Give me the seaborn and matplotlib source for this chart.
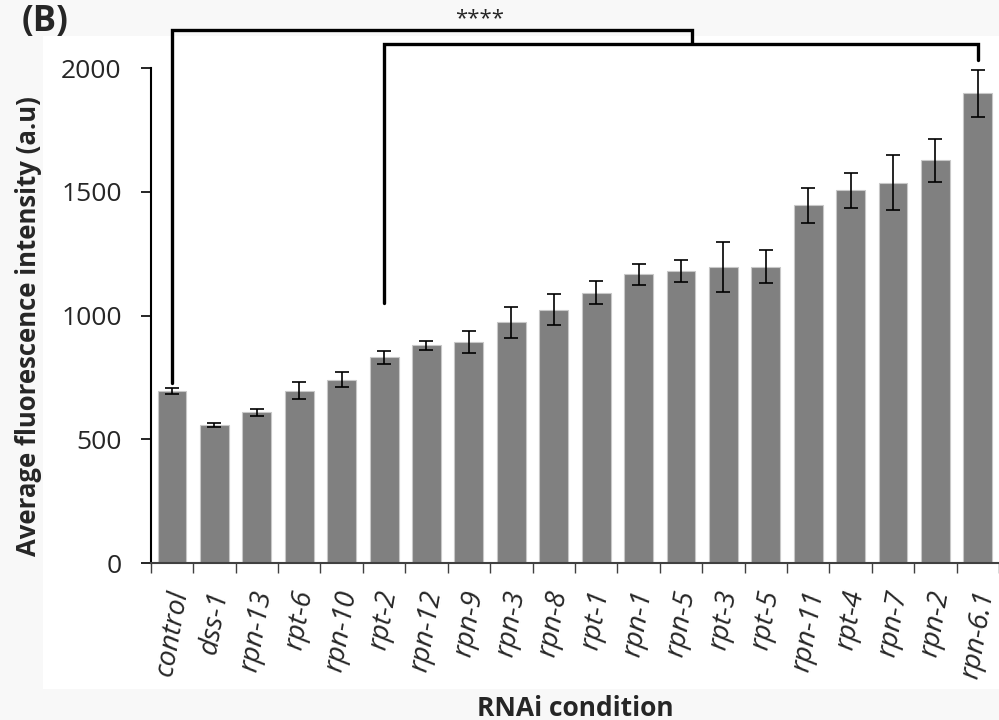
import matplotlib
matplotlib.use("Agg")
from matplotlib import pyplot as plt
from matplotlib.patches import Rectangle
import numpy as np
import pandas as pd
import seaborn as sns

conditions = ['control', 'dss-1', 'rpn-13', 'rpt-6', 'rpn-10', 'rpt-2', 'rpn-12',
              'rpn-9', 'rpn-3', 'rpn-8', 'rpt-1', 'rpn-1', 'rpn-5', 'rpt-3', 'rpt-5',
              'rpn-11', 'rpt-4', 'rpn-7', 'rpn-2', 'rpn-6.1']
mean_fluo = [696, 558, 609, 696, 741, 831, 879, 893, 972, 1024,
             1092, 1166, 1180, 1197, 1197, 1445, 1506, 1537, 1628, 1898]
sem_fluo = [12, 7, 13, 35, 30, 25, 18, 43, 61, 64,
            47, 44, 46, 100, 67, 72, 71, 112, 87, 94]

df = pd.DataFrame({'condition': conditions, 'fluo': mean_fluo, 'sem': sem_fluo})

sns.set_style('white')
plt.rcParams['font.family'] = ['Open Sans', 'DejaVu Sans']

fig = plt.figure(figsize=(9.99, 7.2), dpi=100, facecolor='#f8f8f8')
fig.patches.append(Rectangle((43/999, 1 - 689/720), 1 - 43/999, (689 - 36)/720,
                             transform=fig.transFigure, facecolor='white',
                             edgecolor='none', zorder=-10))
ax = fig.add_axes([0.151, 0.218, 0.849, 0.6875])
ax.set_facecolor('none')

sns.barplot(data=df, x='condition', y='fluo', color='#808080', saturation=1,
            width=0.68, edgecolor='#c8c8c8', linewidth=0.8, errorbar=None, ax=ax)
ax.errorbar(np.arange(len(conditions)), df['fluo'], yerr=df['sem'], fmt='none',
            ecolor='black', elinewidth=1.2, capsize=5, capthick=1.2)

ax.set_ylim(0, 2000)
ax.set_xlim(-0.5, len(conditions) - 0.5)
ax.set_yticks([0, 500, 1000, 1500, 2000])
ax.tick_params(axis='y', labelsize=19, length=7, width=1.2, direction='out',
               left=True, pad=14, color='black')
ax.set_xticks(np.arange(len(conditions)))
ax.set_xticklabels(conditions, rotation=80, fontsize=20, style='italic',
                   ha='center', va='top')
ax.tick_params(axis='x', length=0, pad=18)
ax.set_xticks(np.arange(-0.5, len(conditions), 1), minor=True)
ax.tick_params(axis='x', which='minor', length=7, width=1, color='#404040',
               direction='out', bottom=True)

sns.despine(ax=ax)
ax.spines['left'].set_color('black')
ax.spines['left'].set_linewidth(1.5)
ax.spines['bottom'].set_color('#404040')
ax.spines['bottom'].set_linewidth(1.5)

ax.set_ylabel('Average fluorescence intensity (a.u)', fontsize=18.5,
              fontweight='bold')
ax.yaxis.set_label_coords(-0.128, 0.479)
ax.set_xlabel('RNAi condition', fontsize=19, fontweight='bold', labelpad=10)

# significance brackets
kw = dict(color='black', lw=2.4, clip_on=False, solid_joinstyle='miter')
ax.plot([0, 0, 12.26, 12.26], [727, 2154, 2154, 2101], **kw)
ax.plot([5, 5, 19, 19], [1050, 2097, 2097, 2032], **kw)
ax.text(7.24, 2200, '****', fontsize=16, ha='center', va='center')

fig.text(0.022, 0.995, '(B)', fontsize=25, fontweight='bold', ha='left', va='top')

fig.savefig('out.png', dpi=100, facecolor=fig.get_facecolor())
